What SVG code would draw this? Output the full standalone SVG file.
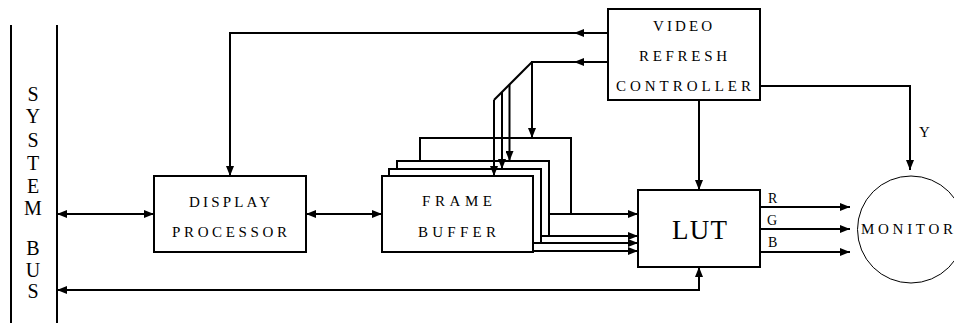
<svg xmlns="http://www.w3.org/2000/svg" width="954" height="323" viewBox="0 0 954 323">
<style>
.ln{fill:none;stroke:#000;stroke-width:2}
.bx{fill:#fff;stroke:#000;stroke-width:2}
.t{font-family:"Liberation Serif","Times New Roman",serif;font-size:15px;fill:#000}
.big{font-size:20px}
.lut{font-size:27px}
.sm{font-size:14px}
</style>
<defs>
<marker id="ah" markerUnits="userSpaceOnUse" markerWidth="10" markerHeight="8" refX="10" refY="4" orient="auto-start-reverse">
<path d="M0,0 L10,4 L0,8 z" fill="#000"/>
</marker>
</defs>

<g id="system-bus">
<path class="ln" d="M11,25 V323 M57,25 V323"/>
<g class="t big" text-anchor="middle">
<text x="33" y="101">S</text>
<text x="33" y="123">Y</text>
<text x="33" y="147">S</text>
<text x="33" y="170">T</text>
<text x="33" y="193">E</text>
<text x="33" y="215">M</text>
<text x="33" y="255">B</text>
<text x="33" y="277">U</text>
<text x="33" y="298">S</text>
</g>
</g>

<g id="display-processor">
<rect class="bx" x="154" y="176" width="152" height="76"/>
<text class="t" x="189" y="206.5" textLength="81" lengthAdjust="spacing">DISPLAY</text>
<text class="t" x="172" y="236.5" textLength="115" lengthAdjust="spacing">PROCESSOR</text>
</g>

<g id="frame-buffer">
<path class="ln" d="M420,161 V138 H571 V214"/>
<path class="ln" d="M397,169 V161 H549 V236 H541"/>
<path class="ln" d="M389,176 V169 H541 V243 H533"/>
<rect class="bx" x="382" y="176" width="151" height="76"/>
<text class="t" x="422" y="205.5" textLength="70" lengthAdjust="spacing">FRAME</text>
<text class="t" x="418" y="236.5" textLength="78" lengthAdjust="spacing">BUFFER</text>
</g>

<g id="video-refresh-controller">
<rect class="bx" x="608" y="9" width="152" height="91"/>
<text class="t" x="653" y="30.5" textLength="59" lengthAdjust="spacing">VIDEO</text>
<text class="t" x="639" y="61" textLength="88" lengthAdjust="spacing">REFRESH</text>
<text class="t" x="616" y="91" textLength="135" lengthAdjust="spacing">CONTROLLER</text>
</g>

<g id="lut">
<rect class="bx" x="638" y="190" width="122" height="77"/>
<text class="t lut" x="672" y="239" textLength="55" lengthAdjust="spacing">LUT</text>
</g>

<g id="monitor">
<circle cx="911" cy="229.5" r="53.5" fill="none" stroke="#000" stroke-width="1"/>
<text class="t" x="861" y="234" textLength="92" lengthAdjust="spacing">MONITOR</text>
</g>

<g id="connectors">
<path class="ln" d="M57,214 H154" marker-start="url(#ah)" marker-end="url(#ah)"/>
<path class="ln" d="M306,214 H382" marker-start="url(#ah)" marker-end="url(#ah)"/>
<path class="ln" d="M699,267 V290 H57" marker-start="url(#ah)" marker-end="url(#ah)"/>
<path class="ln" d="M608,33 H230 V176" marker-end="url(#ah)"/>
<path class="ln" d="M584,33 H574" marker-end="url(#ah)"/>
<path class="ln" d="M608,62 H532 V138" marker-end="url(#ah)"/>
<path class="ln" d="M584,62 H574" marker-end="url(#ah)"/>
<path class="ln" d="M532,62 L494,100"/>
<path class="ln" d="M494,100 V176" marker-end="url(#ah)"/>
<path class="ln" d="M502,92 V169" marker-end="url(#ah)"/>
<path class="ln" d="M509.5,84.5 V161" marker-end="url(#ah)"/>
<path class="ln" d="M549,214 H638" marker-end="url(#ah)"/>
<path class="ln" d="M541,236 H638" marker-end="url(#ah)"/>
<path class="ln" d="M533,243 H638" marker-end="url(#ah)"/>
<path class="ln" d="M533,251 H638" marker-end="url(#ah)"/>
<path class="ln" d="M699,100 V190" marker-end="url(#ah)"/>
<path class="ln" d="M760,86 H910 V170" marker-end="url(#ah)"/>
<path class="ln" d="M760,207 H850" marker-end="url(#ah)"/>
<path class="ln" d="M760,229 H850" marker-end="url(#ah)"/>
<path class="ln" d="M760,252 H850" marker-end="url(#ah)"/>
<text class="t sm" x="768" y="202.5">R</text>
<text class="t sm" x="767" y="225">G</text>
<text class="t sm" x="768" y="246.5">B</text>
<text class="t" x="919" y="137">Y</text>
</g>
</svg>
